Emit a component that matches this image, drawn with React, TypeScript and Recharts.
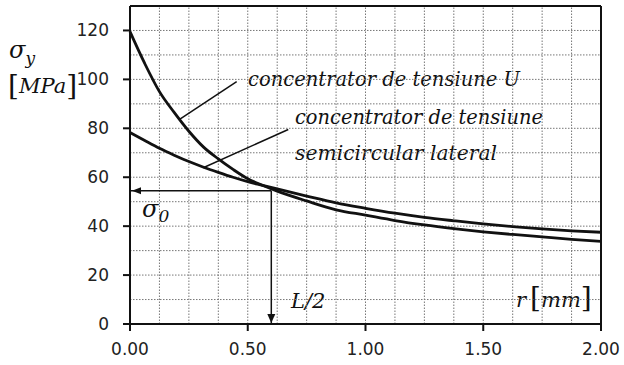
import React from "react";
import {
  LineChart,
  Line,
  XAxis,
  YAxis,
  ReferenceLine,
  ReferenceDot,
} from "recharts";

// r [mm]
const rVals = [
  0, 0.0625, 0.125, 0.1875, 0.25, 0.3125, 0.375, 0.4375, 0.5, 0.5625, 0.625,
  0.75, 0.875, 1, 1.125, 1.25, 1.375, 1.5, 1.625, 1.75, 1.875, 2,
];
// concentrator de tensiune U
const uVals = [
  119.5, 106.5, 95, 86.5, 78.8, 72.3, 67.5, 63.2, 59.4, 56.7, 54.3, 50.3, 46.7,
  44.5, 42.3, 40.5, 39, 37.7, 36.6, 35.6, 34.6, 33.8,
];
// concentrator de tensiune semicircular lateral
const semiVals = [
  78.3, 75, 71.8, 69, 66.4, 64.1, 62, 60, 58.2, 56.7, 55.2, 52.3, 49.5, 47.3,
  45.3, 43.6, 42.2, 40.9, 39.8, 38.9, 38.1, 37.5,
];

const xTicks = [0, 0.5, 1, 1.5, 2];
const yTicks = [0, 20, 40, 60, 80, 100, 120];
const gridX = [
  0.125, 0.25, 0.375, 0.5, 0.625, 0.75, 0.875, 1, 1.125, 1.25, 1.375, 1.5,
  1.625, 1.75, 1.875,
];
const gridY = [10, 20, 30, 40, 50, 60, 70, 80, 90, 100, 110, 120];

// sigma_0 / L/2 marker
const sigma0 = 54.5;
const halfL = 0.6;

// leader lines from labels to curves
const leaderU = [
  { x: 0.453, y: 99.1 },
  { x: 0.212, y: 83.8 },
];
const leaderSemi = [
  { x: 0.672, y: 79.5 },
  { x: 0.311, y: 63.9 },
];

const data = rVals.map((r, i) => ({ r, u: uVals[i], semi: semiVals[i] }));

const serif = "'DejaVu Serif', serif";
const sans = "'DejaVu Sans', sans-serif";

const ArrowLeft = (p: any) => (
  <path
    d={`M${p.cx + 2},${p.cy} L${p.cx + 11},${p.cy - 3.5} L${p.cx + 11},${p.cy + 3.5} Z`}
    fill="#111"
  />
);
const ArrowDown = (p: any) => (
  <path
    d={`M${p.cx},${p.cy - 1} L${p.cx - 4},${p.cy - 10} L${p.cx + 4},${p.cy - 10} Z`}
    fill="#111"
  />
);

export default function App() {
  return (
    <div
      style={{
        position: "absolute",
        left: 0,
        top: 0,
        width: 624,
        height: 365,
        background: "#fff",
      }}
    >
      <LineChart
        width={624}
        height={365}
        data={data}
        margin={{ top: 6, right: 23, left: 70, bottom: 6 }}
      >
        {gridY.map((v) => (
          <ReferenceLine
            key={"gy" + v}
            y={v}
            stroke="#777"
            strokeDasharray="1.5 1.5"
            strokeWidth={1}
          />
        ))}
        {gridX.map((v) => (
          <ReferenceLine
            key={"gx" + v}
            x={v}
            stroke="#777"
            strokeDasharray="1.5 1.5"
            strokeWidth={1}
          />
        ))}
        <XAxis
          type="number"
          dataKey="r"
          domain={[0, 2]}
          ticks={xTicks}
          tickFormatter={(v: number) => v.toFixed(2)}
          stroke="#111"
          strokeWidth={2}
          tickSize={7}
          tickMargin={12}
          height={35}
          tick={{ fill: "#222", fontSize: 17, fontFamily: sans }}
        />
        <YAxis
          type="number"
          domain={[0, 130]}
          ticks={yTicks}
          stroke="#111"
          strokeWidth={2}
          tickSize={7}
          tickMargin={14}
          width={60}
          tick={{ fill: "#222", fontSize: 17, fontFamily: sans }}
        />
        <ReferenceLine y={130} stroke="#111" strokeWidth={2} />
        <ReferenceLine x={2} stroke="#111" strokeWidth={2} />

        <Line
          type="monotone"
          dataKey="u"
          stroke="#111"
          strokeWidth={2.8}
          dot={false}
          isAnimationActive={false}
        />
        <Line
          type="monotone"
          dataKey="semi"
          stroke="#111"
          strokeWidth={2.8}
          dot={false}
          isAnimationActive={false}
        />

        <ReferenceLine
          segment={leaderU}
          stroke="#111"
          strokeWidth={1.5}
          ifOverflow="visible"
        />
        <ReferenceLine
          segment={leaderSemi}
          stroke="#111"
          strokeWidth={1.5}
          ifOverflow="visible"
        />
        <ReferenceLine
          segment={[
            { x: 0, y: sigma0 },
            { x: halfL, y: sigma0 },
          ]}
          stroke="#111"
          strokeWidth={1.5}
        />
        <ReferenceLine
          segment={[
            { x: halfL, y: sigma0 },
            { x: halfL, y: 0 },
          ]}
          stroke="#111"
          strokeWidth={1.5}
        />
        <ReferenceDot x={0} y={sigma0} shape={ArrowLeft} ifOverflow="visible" />
        <ReferenceDot x={halfL} y={0} shape={ArrowDown} ifOverflow="visible" />

        <text
          x={248}
          y={86}
          fontFamily={serif}
          fontStyle="italic"
          fontSize={21}
          fill="#111"
          textLength={272}
          lengthAdjust="spacingAndGlyphs"
        >
          concentrator de tensiune U
        </text>
        <text
          x={295}
          y={124}
          fontFamily={serif}
          fontStyle="italic"
          fontSize={21}
          fill="#111"
          textLength={248}
          lengthAdjust="spacingAndGlyphs"
        >
          concentrator de tensiune
        </text>
        <text
          x={295}
          y={160}
          fontFamily={serif}
          fontStyle="italic"
          fontSize={21}
          fill="#111"
          textLength={202}
          lengthAdjust="spacingAndGlyphs"
        >
          semicircular lateral
        </text>

        <text x={9} y={58} fontFamily={serif} fill="#111">
          <tspan fontSize={24} fontStyle="italic">
            σ
          </tspan>
          <tspan fontSize={17} fontStyle="italic" dy={6}>
            y
          </tspan>
        </text>
        <text x={8} y={95} fontFamily={serif} fill="#111">
          <tspan fontSize={28}>[</tspan>
          <tspan fontSize={21} fontStyle="italic" dy={-2}>
            MPa
          </tspan>
          <tspan fontSize={28} dy={2}>
            ]
          </tspan>
        </text>

        <text x={142} y={217} fontFamily={serif} fill="#111">
          <tspan fontSize={24} fontStyle="italic">
            σ
          </tspan>
          <tspan fontSize={17} fontStyle="italic" dy={5}>
            0
          </tspan>
        </text>
        <text
          x={291}
          y={308}
          fontFamily={serif}
          fontStyle="italic"
          fontSize={21}
          fill="#111"
        >
          L/2
        </text>
        <text x={516} y={307} fontFamily={serif} fill="#111">
          <tspan fontSize={21} fontStyle="italic">
            r
          </tspan>
          <tspan fontSize={28} dx={4}>
            [
          </tspan>
          <tspan fontSize={21} fontStyle="italic">
            mm
          </tspan>
          <tspan fontSize={28}>]</tspan>
        </text>
      </LineChart>
    </div>
  );
}
